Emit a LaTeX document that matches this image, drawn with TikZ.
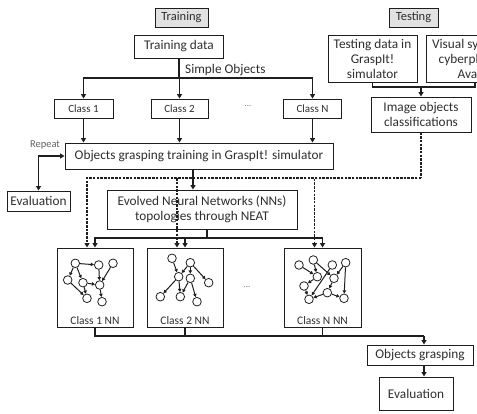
\documentclass[tikz,border=0pt]{standalone}
\usepackage{fontspec}
\setmainfont{Carlito}
\usetikzlibrary{arrows.meta,positioning}
\definecolor{boxgray}{HTML}{E2E2E2}
\definecolor{ink}{HTML}{2E2E2E}
\definecolor{wire}{HTML}{1E1E1E}

\begin{document}
\begin{tikzpicture}[x=1pt, y=-1pt,
      box/.style={draw=wire, line width=0.9pt, align=center, inner sep=1pt, text=ink,
        font=\fontsize{13.3}{15}\selectfont},
      classbox/.style={box, font=\fontsize{11}{13}\selectfont},
      phase/.style={box, fill=boxgray, font=\fontsize{12.5}{14}\selectfont},
      nnbox/.style={draw=wire, line width=0.9pt, minimum width=76pt, minimum height=79pt, inner sep=0pt},
      nnlabel/.style={text=ink, inner sep=1pt, font=\fontsize{11.5}{13}\selectfont},
      link/.style={line width=1.6pt, draw=wire},
      arrow/.style={link, -{Triangle[length=4.5pt, width=5pt]}},
      twoway/.style={link, {Triangle[length=4.5pt, width=5pt]}-{Triangle[length=4.5pt, width=5pt]}},
      dashlink/.style={link, dash pattern=on 2.5pt off 1.2pt},
      dasharrow/.style={arrow, dash pattern=on 2.5pt off 1.2pt},
      neuron/.style={circle, draw=wire, line width=0.8pt, minimum size=8.6pt, inner sep=0pt},
      syn/.style={line width=1pt, draw=wire, -{Triangle[length=3.2pt, width=3.4pt]}},
      dots/.style={text=ink!70, font=\fontsize{9}{10}\selectfont}
    ]
      \useasboundingbox (0,0) rectangle (477,414);
      \clip (0,0) rectangle (477,414);

      % phase headers
      \node[phase, minimum width=53pt, minimum height=19pt] (train) at (181.5,17.5) {Training};
      \node[phase, minimum width=49pt, minimum height=19pt] (test) at (413.5,17.5) {Testing};

      % training side
      \node[box, minimum width=89pt, minimum height=23pt] (tdata) at (179,46.5) {Training data};
      \node[text=ink, inner sep=0pt, anchor=west, font=\fontsize{13.3}{15}\selectfont] (simple) at (185,70) {Simple Objects};
      \node[classbox, minimum width=59pt, minimum height=19pt] (class1) at (83.5,108.5) {Class 1};
      \node[classbox, minimum width=57pt, minimum height=19pt] (class2) at (179.5,108.5) {Class 2};
      \node[classbox, minimum width=58pt, minimum height=19pt] (classN) at (312.5,108.5) {Class N};
      \node[dots] (cdots) at (248,106) {...};
      \node[box, minimum width=268pt, minimum height=26pt] (grasp) at (199,156) {Objects grasping training in GraspIt! simulator};
      \node[text=ink!75, inner sep=0pt, font=\fontsize{10.5}{12}\selectfont] (repeat) at (45,145) {Repeat};
      \node[box, minimum width=63pt, minimum height=20pt] (eval1) at (38.5,201) {Evaluation};
      \node[box, minimum width=190pt, minimum height=39pt] (evolved) at (202,209.5) {Evolved Neural Networks (NNs)\\topologies through NEAT};

      % testing side
      \node[box, minimum width=89pt, minimum height=47pt] (testd) at (372.5,58.5) {Testing data in\\GraspIt!\\simulator};
      \node[box, minimum width=98pt, minimum height=47pt] (visual) at (475,58.5) {Visual system in\\cyberphysical\\Avatar};
      \node[box, minimum width=100pt, minimum height=35pt] (imgcls) at (421,114.5) {Image objects\\classifications};

      % evolved networks
      \node[nnbox] (nn1) at (95,287.5) {};
      \node[nnbox] (nn2) at (185,287.5) {};
      \node[nnbox, minimum width=77pt] (nnN) at (322.5,287.5) {};
      \node[nnlabel, above=2pt of nn1.south] {Class 1 NN};
      \node[nnlabel, above=2pt of nn2.south] {Class 2 NN};
      \node[nnlabel, above=2pt of nnN.south] {Class N NN};
      \node[dots] (ndots) at (247,287) {...};

      % result
      \node[box, minimum width=106pt, minimum height=20pt] (grasp2) at (420,355) {Objects grasping};
      \node[box, minimum width=74pt, minimum height=33pt] (eval2) at (416,393.5) {Evaluation};

      % network of class 1
      \foreach \n/\x/\y in {a/75.3/263.3, b/98.7/265, c/113/263.3, d/67.7/280,
                            e/83/282.7, f/99.7/285, g/87/298.3, h/102/301.7}
        \node[neuron] (p\n) at (\x,\y) {};
      \foreach \s/\t in {a/b, a/d, a/e, c/f, b/f, e/f, d/g, e/g, f/h}
        \draw[syn] (p\s) -- (p\t);

      % network of class 2
      \foreach \n/\x/\y in {a/172/258.3, b/190.3/262.7, c/178.7/276.7, d/190.3/278.3,
                            e/208.7/282.7, f/160.3/296.7, g/180.3/296.7, h/197/301.7}
        \node[neuron] (q\n) at (\x,\y) {};
      \foreach \s/\t in {a/c, b/c, b/e, b/d, c/f, c/g, d/g, d/h}
        \draw[syn] (q\s) -- (q\t);

      % network of class N
      \foreach \n/\x/\y in {a/299/265, b/313.3/260, c/332.3/265, d/345.7/262.7, e/317.3/276.7,
                            f/334/278.3, g/304/286, h/327.3/292.7, i/309/299.3, j/344/298.3}
        \node[neuron] (r\n) at (\x,\y) {};
      \foreach \s/\t in {a/e, b/e, b/f, d/f, d/j, e/g, c/i, g/i, f/h, h/i, h/j}
        \draw[syn] (r\s) -- (r\t);

      % training flow
      \coordinate (split) at (179,78);
      \draw[link] (tdata) -- (split);
      \foreach \c in {class1,class2,classN}
        \draw[arrow] (split) -| (\c);
      \foreach \c in {class1,class2,classN}
        \draw[arrow] (\c) -- (\c |- grasp.north);
      \draw[twoway] (eval1) |- (grasp);
      \draw[arrow] ([xshift=-6pt]grasp.south) -- ([xshift=-9pt]evolved.north);

      % testing flow
      \coordinate (tmerge) at (421,87);
      \draw[link] (testd) |- (tmerge) -| (visual);
      \draw[arrow] (tmerge) -- (imgcls);
      \coordinate (dsplit) at (421,178);
      \draw[dashlink] (imgcls) -- (dsplit);
      \foreach \n in {nn1,nn2,nnN}
        \draw[dasharrow] (dsplit) -| ([xshift=-8pt]\n.north);

      % networks to grasping
      \coordinate (esplit) at (207,238);
      \draw[link] ([xshift=5pt]evolved.south) -- (esplit);
      \foreach \n in {nn1,nn2,nnN}
        \draw[arrow] (esplit) -| (\n);
      \coordinate (bmerge) at (424,336);
      \foreach \n in {nn1,nn2,nnN}
        \draw[link] (\n) |- (bmerge);
      \draw[arrow] (bmerge) -- ([xshift=4pt]grasp2.north);
      \draw[arrow] ([xshift=4pt]grasp2.south) -- ([xshift=8pt]eval2.north);
    \end{tikzpicture}
\end{document}
